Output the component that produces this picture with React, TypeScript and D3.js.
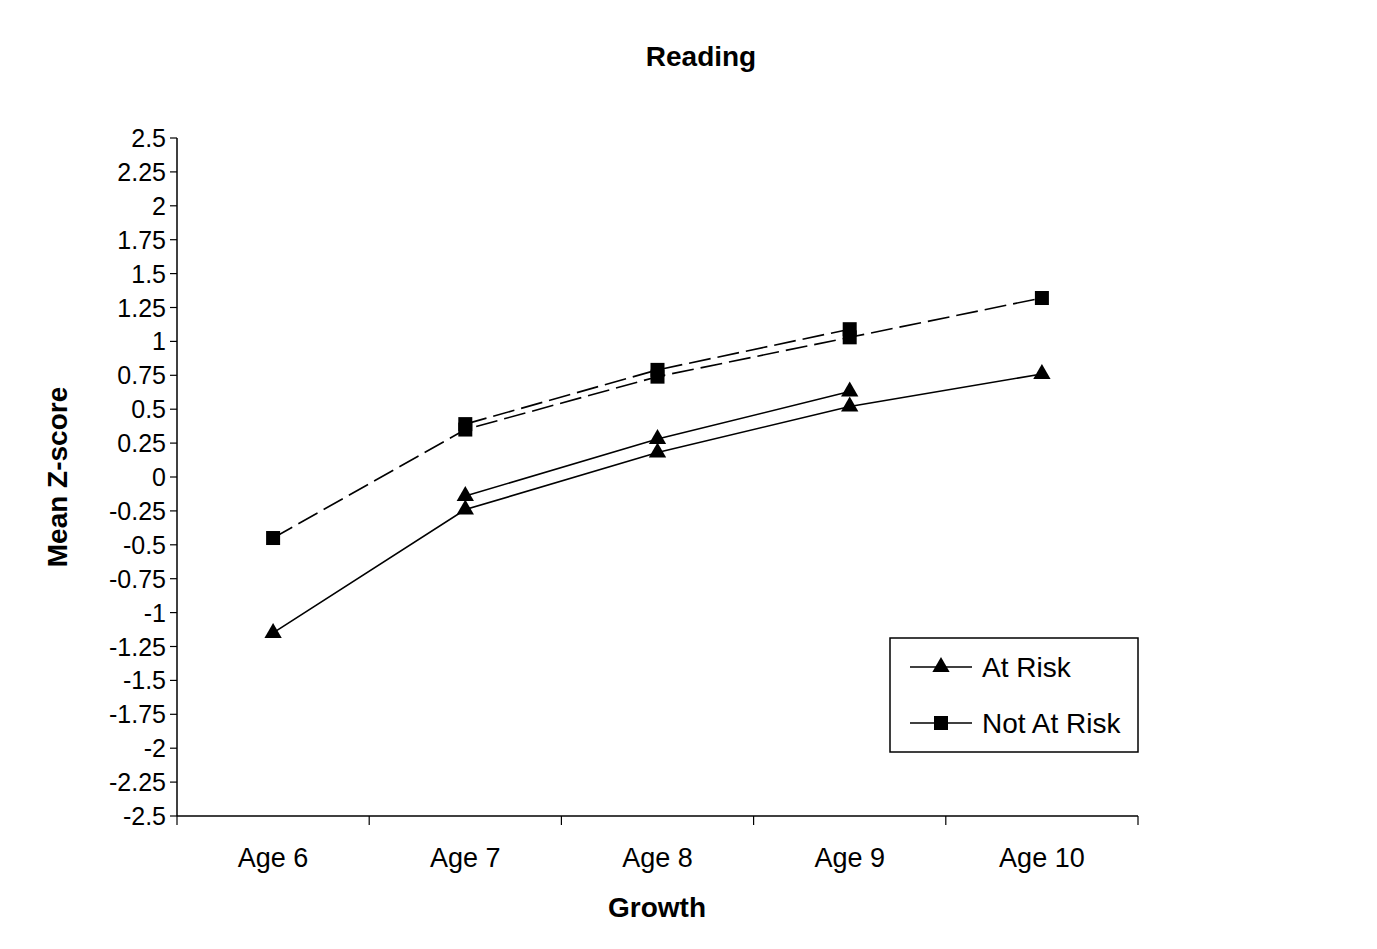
import React from "react";
import * as d3 from "d3";

// Mean reading z-scores by age, two cohorts per group
const ages = ["Age 6", "Age 7", "Age 8", "Age 9", "Age 10"];
const atRiskCohort1: (number | null)[] = [-1.15, -0.24, 0.18, 0.52, 0.76];
const atRiskCohort2: (number | null)[] = [null, -0.14, 0.28, 0.63, null];
const notAtRiskCohort1: (number | null)[] = [-0.45, 0.35, 0.74, 1.03, 1.32];
const notAtRiskCohort2: (number | null)[] = [null, 0.39, 0.79, 1.09, null];
const yTicks = [2.5, 2.25, 2, 1.75, 1.5, 1.25, 1, 0.75, 0.5, 0.25, 0, -0.25, -0.5, -0.75, -1, -1.25, -1.5, -1.75, -2, -2.25, -2.5];
const legendItems = ["At Risk", "Not At Risk"];

const W = 1377;
const H = 949;
const left = 177;
const right = 1138;
const top = 138;
const bottom = 816;
const font = "'Liberation Sans', Arial, sans-serif";

export default function App() {
  const x = d3.scaleBand<string>().domain(ages).range([left, right]);
  const y = d3.scaleLinear().domain([-2.5, 2.5]).range([bottom, top]);
  const cx = (i: number) => (x(ages[i]) as number) + x.bandwidth() / 2;

  const line = d3
    .line<number | null>()
    .defined((d) => d !== null)
    .x((_, i) => cx(i))
    .y((d) => y(d as number));

  const triangle = d3.symbol().type(d3.symbolTriangle).size(130)();
  const square = (px: number, py: number, s = 14) => (
    <rect x={px - s / 2} y={py - s / 2} width={s} height={s} fill="#000" />
  );

  const series = [
    { data: atRiskCohort1, dash: undefined, marker: "tri" },
    { data: atRiskCohort2, dash: undefined, marker: "tri" },
    { data: notAtRiskCohort1, dash: "22 7", marker: "sq" },
    { data: notAtRiskCohort2, dash: "22 7", marker: "sq" },
  ];

  const boundaries = [...ages.map((a) => x(a) as number), right];

  return (
    <svg
      width={W}
      height={H}
      style={{ position: "absolute", left: 0, top: 0, background: "#fff" }}
      fontFamily={font}
    >
      <rect x={0} y={0} width={W} height={H} fill="#fff" />
      <text x={701} y={56} textAnchor="middle" dominantBaseline="central" fontSize={28} fontWeight="bold">
        Reading
      </text>

      {/* y axis */}
      <line x1={left} x2={left} y1={top} y2={bottom} stroke="#000" strokeWidth={1.5} />
      {yTicks.map((t) => (
        <g key={t}>
          <line x1={left - 7} x2={left} y1={y(t)} y2={y(t)} stroke="#000" strokeWidth={1.2} />
          <text x={166} y={y(t)} textAnchor="end" dominantBaseline="central" fontSize={25}>
            {String(t)}
          </text>
        </g>
      ))}

      {/* x axis */}
      <line x1={left} x2={right} y1={bottom} y2={bottom} stroke="#000" strokeWidth={1.5} />
      {boundaries.map((b, i) => (
        <line key={i} x1={b} x2={b} y1={bottom} y2={bottom + 9} stroke="#000" strokeWidth={1.2} />
      ))}
      {ages.map((a, i) => (
        <text key={a} x={cx(i)} y={858} textAnchor="middle" dominantBaseline="central" fontSize={27}>
          {a}
        </text>
      ))}
      <text x={657} y={907} textAnchor="middle" dominantBaseline="central" fontSize={28} fontWeight="bold">
        Growth
      </text>
      <text
        transform={`translate(57, ${y(0)}) rotate(-90)`}
        textAnchor="middle"
        dominantBaseline="central"
        fontSize={28}
        fontWeight="bold"
      >
        Mean Z-score
      </text>

      {/* lines */}
      {series.map((s, k) => (
        <path
          key={k}
          d={line(s.data) || ""}
          fill="none"
          stroke="#000"
          strokeWidth={1.6}
          strokeDasharray={s.dash}
        />
      ))}
      {/* markers */}
      {series.map((s, k) =>
        s.data.map((v, i) =>
          v === null ? null : s.marker === "tri" ? (
            <path key={`${k}-${i}`} d={triangle || ""} transform={`translate(${cx(i)}, ${y(v)})`} fill="#000" />
          ) : (
            <g key={`${k}-${i}`}>{square(cx(i), y(v))}</g>
          )
        )
      )}

      {/* legend */}
      <rect x={890} y={638} width={248} height={114} fill="#fff" stroke="#000" strokeWidth={1.5} />
      {legendItems.map((name, i) => {
        const ly = 667 + i * 56;
        return (
          <g key={name}>
            <line x1={910} x2={972} y1={ly} y2={ly} stroke="#000" strokeWidth={1.6} />
            {i === 0 ? (
              <path d={triangle || ""} transform={`translate(941, ${ly})`} fill="#000" />
            ) : (
              square(941, ly)
            )}
            <text x={982} y={ly} dominantBaseline="central" fontSize={28}>
              {name}
            </text>
          </g>
        );
      })}
    </svg>
  );
}
